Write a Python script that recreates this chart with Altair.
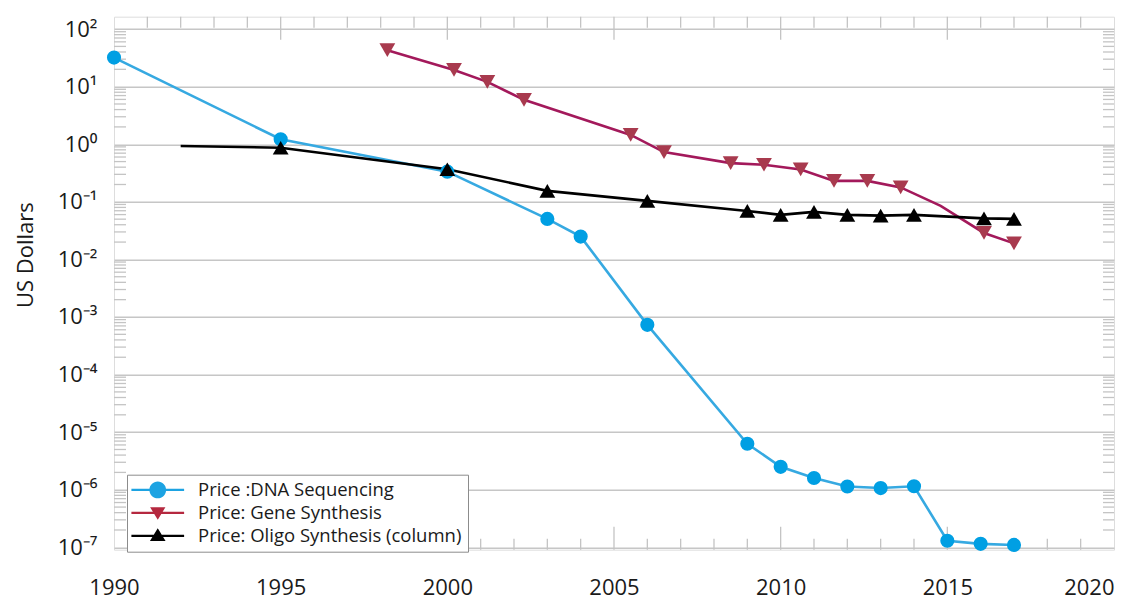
import altair as alt
import pandas as pd

# ---- data ----
seq_years = [1990, 1995, 2000, 2003, 2004, 2006, 2009, 2010, 2011, 2012, 2013, 2014, 2015, 2016, 2017]
seq_values = [32, 1.22, 0.334, 0.0505, 0.0249, 7.3e-4, 6.3e-6, 2.5e-6, 1.6e-6, 1.14e-6, 1.07e-6,
              1.15e-6, 1.3e-7, 1.15e-7, 1.1e-7]
seq_marker = [True] * 15

gene_years = [1998.2, 2000.2, 2001.2, 2002.3, 2005.5, 2006.5, 2008.5, 2009.5, 2010.6, 2011.6,
              2012.6, 2013.6, 2014.8, 2016.1, 2017.0]
gene_values = [43, 19.5, 12.1, 5.9, 1.45, 0.73, 0.47, 0.44, 0.365, 0.231, 0.231, 0.178, 0.085,
               0.0288, 0.019]
gene_marker = [True] * 12 + [False] + [True, True]

oligo_years = [1992, 1995, 2000, 2003, 2006, 2009, 2010, 2011, 2012, 2013, 2014, 2016.1, 2017]
oligo_values = [0.93, 0.87, 0.368, 0.155, 0.104, 0.0695, 0.0593, 0.0668, 0.0593, 0.0576, 0.0593,
                0.0515, 0.0505]
oligo_marker = [False] + [True] * 12

series_names = ["Price :DNA Sequencing", "Price: Gene Synthesis", "Price: Oligo Synthesis (column)"]
line_colors = ["#36a9e1", "#a3195b", "#000000"]
marker_colors = ["#009fe3", "#a83a4e", "#000000"]
marker_shapes = ["circle", "triangle-down", "triangle-up"]
marker_sizes = [200, 250, 250]

decade_ticks = [1e-7, 1e-6, 1e-5, 1e-4, 1e-3, 1e-2, 1e-1, 1, 10, 100]
year_ticks = [1990, 1995, 2000, 2005, 2010, 2015, 2020]

Y_DOMAIN = [9.1e-8, 164]
X_DOMAIN = [1990, 2020]
W, H = 1000, 533

frames = []
for name, yrs, vals, mk in [
    (series_names[0], seq_years, seq_values, seq_marker),
    (series_names[1], gene_years, gene_values, gene_marker),
    (series_names[2], oligo_years, oligo_values, oligo_marker),
]:
    frames.append(pd.DataFrame({"series": name, "year": yrs, "value": vals, "marker": mk}))
df = pd.concat(frames, ignore_index=True)

# minor tick positions
minor_y = [m * 10.0 ** d for d in range(-8, 3) for m in range(2, 10)]
minor_y = [v for v in minor_y if Y_DOMAIN[0] <= v <= Y_DOMAIN[1]]
ydf = pd.DataFrame({"value": minor_y})
xdf = pd.DataFrame({"year": list(range(1991, 2020))})
xdf["major"] = xdf["year"] % 5 == 0

xs = alt.Scale(domain=X_DOMAIN, nice=False, zero=False)
ys = alt.Scale(type="log", domain=Y_DOMAIN, nice=False)

sup = "['⁰','¹','²','³','⁴','⁵','⁶','⁷','⁸','⁹']"
exp = "round(log(datum.value)/LN10)"
label_expr = f"'10' + ({exp} < 0 ? '⁻' : '') + {sup}[abs({exp})]"

x_enc = alt.X("year:Q", scale=xs,
              axis=alt.Axis(values=year_ticks, format="d", title=None, ticks=False, domain=False,
                            grid=False, labelFontSize=22, labelPadding=28, labelFlush=False,
                            labelAlign={"condition": {"test": "datum.value >= 2020", "value": "right"},
                                        "value": "center"},
                            labelColor="#1a1a1a", labelFont="Open Sans"))
y_enc = alt.Y("value:Q", scale=ys,
              axis=alt.Axis(values=decade_ticks, labelExpr=label_expr, ticks=False, domain=False,
                            grid=True, gridColor="#c6c6c6", gridWidth=1.5,
                            labelFontSize=22, labelPadding=17, labelFlush=False,
                            labelColor="#1a1a1a", labelFont="Open Sans",
                            title="US Dollars", titleFontSize=22, titleFontWeight="normal",
                            titleFont="Open Sans", titleColor="#1a1a1a",
                            titleX=-89, titleY=238, titleBaseline="middle"))

base = alt.Chart(df)
layers = []

# inward ticks
tick_color = "#c4c4c4"
tx = alt.Chart(xdf)
layers.append(tx.transform_filter("!datum.major").mark_rule(color=tick_color, strokeWidth=1.3)
              .encode(x=x_enc, y=alt.value(0), y2=alt.value(11)))
layers.append(tx.transform_filter("datum.major").mark_rule(color=tick_color, strokeWidth=1.3)
              .encode(x=x_enc, y=alt.value(0), y2=alt.value(23)))
layers.append(tx.transform_filter("!datum.major").mark_rule(color=tick_color, strokeWidth=1.3)
              .encode(x=x_enc, y=alt.value(H), y2=alt.value(H - 11)))
layers.append(tx.transform_filter("datum.major").mark_rule(color=tick_color, strokeWidth=1.3)
              .encode(x=x_enc, y=alt.value(H), y2=alt.value(H - 23)))
ty = alt.Chart(ydf)
layers.append(ty.mark_rule(color=tick_color, strokeWidth=1.3)
              .encode(y=y_enc, x=alt.value(0), x2=alt.value(12)))
layers.append(ty.mark_rule(color=tick_color, strokeWidth=1.3)
              .encode(y=y_enc, x=alt.value(W), x2=alt.value(W - 11)))

# lines
for name, lc in zip(series_names, line_colors):
    layers.append(base.transform_filter(alt.datum.series == name)
                  .mark_line(color=lc, strokeWidth=2.6)
                  .encode(x=x_enc, y=y_enc, order="year:Q"))
# markers
for name, mc, shp, sz in zip(series_names, marker_colors, marker_shapes, marker_sizes):
    layers.append(base.transform_filter(alt.datum.series == name).transform_filter("datum.marker")
                  .mark_point(shape=shp, filled=True, size=sz, color=mc, opacity=1)
                  .encode(x=x_enc, y=y_enc))

# legend-only layer (no rows drawn)
bar = "M-3.1,-0.13L3.1,-0.13L3.1,0.13L-3.1,0.13Z"
legend_paths = [
    bar + "M0.98,0A0.98,0.98,0,1,1,-0.98,0A0.98,0.98,0,1,1,0.98,0Z",
    bar + "M-0.9,-0.67L0.9,-0.67L0,0.8Z",
    bar + "M0,-0.9L0.92,0.6L-0.92,0.6Z",
]
legend_colors = ["#1da3e2", "#b5283f", "#000000"]
leg = alt.Legend(title=None, orient="none", legendX=13, legendY=458, symbolSize=289,
                 symbolOffset=15.5, labelOffset=31, padding=6, rowPadding=4,
                 labelFontSize=18.5, labelFont="Open Sans", labelColor="#1a1a1a",
                 fillColor="white", strokeColor="#8c8c8c", symbolStrokeWidth=0,
                 labelLimit=400)
layers.append(base.transform_filter("datum.year < 0")
              .mark_point(filled=True, opacity=1)
              .encode(x=x_enc, y=y_enc,
                      color=alt.Color("series:N", scale=alt.Scale(domain=series_names, range=legend_colors),
                                      legend=leg),
                      shape=alt.Shape("series:N", scale=alt.Scale(domain=series_names, range=legend_paths),
                                      legend=leg)))

chart = (alt.layer(*layers)
         .properties(width=W, height=H, autosize="none",
                     padding={"left": 106, "top": 8.7, "right": 16, "bottom": 53})
         .configure_view(stroke="black", strokeWidth=2)
         .configure_legend(strokeWidth=2.5)
         .configure(font="Open Sans"))

chart.save("out.html", embed_options={"renderer": "svg", "actions": False})
